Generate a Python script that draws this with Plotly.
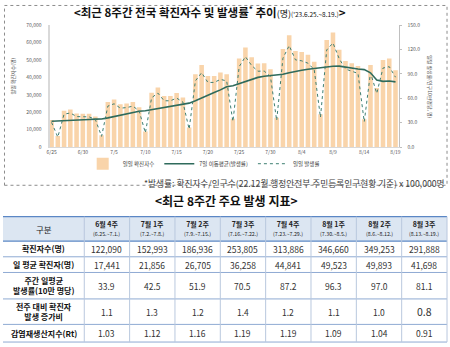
import plotly.graph_objects as go
import pandas as pd

# ---------------- data ----------------
dates = pd.date_range("2023-06-25", "2023-08-19", freq="D")
tick_labels = ["6/25", "6/30", "7/5", "7/10", "7/15", "7/20", "7/25", "7/30",
               "8/4", "8/9", "8/14", "8/19"]

daily_cases = [15600, 6300, 20800, 21600, 19300, 19100, 19100,
               17500, 6800, 25900, 27400, 24600, 25000, 25900,
               22900, 9000, 31200, 34200, 29300, 29300, 31000,
               28500, 11300, 41900, 47100, 40900, 40900, 42800,
               41900, 16200, 50900, 57200, 51600, 48000, 48100,
               44700, 16800, 56300, 64200, 55200, 54600, 53100,
               49000, 18800, 61500, 65900, 55900, 49400, 48100,
               46600, 16000, 47100, 34000, 50000, 50900, 44200]

daily_rate = [30.4, 12.3, 40.5, 42.0, 37.5, 37.2, 37.2,
              34.0, 13.2, 50.4, 53.3, 47.9, 48.6, 50.4,
              44.6, 17.5, 60.7, 66.5, 57.0, 57.0, 60.3,
              55.4, 22.0, 81.5, 91.6, 79.6, 79.6, 83.3,
              81.5, 31.5, 99.0, 111.3, 100.4, 93.4, 93.6,
              87.0, 32.7, 109.5, 124.9, 107.4, 106.2, 103.3,
              95.3, 36.6, 119.6, 128.2, 108.8, 96.1, 93.6,
              90.7, 31.1, 91.6, 66.1, 97.3, 99.0, 86.0]

ma7_rate = [31.8, 32.0, 32.3, 32.6, 33.0, 33.4, 33.9,
            34.4, 34.5, 35.9, 37.5, 39.0, 40.7, 42.5,
            44.1, 44.7, 46.1, 48.0, 49.3, 50.5, 51.9,
            53.5, 54.1, 57.1, 60.7, 63.9, 67.1, 70.4,
            74.2, 75.5, 78.0, 80.8, 83.8, 85.8, 87.2,
            88.0, 88.2, 89.7, 91.6, 92.6, 94.5, 95.9,
            97.0, 97.6, 99.0, 99.5, 99.7, 98.3, 96.9,
            96.2, 95.4, 91.4, 82.6, 80.9, 81.3, 80.3]

weeks = ["6월 4주", "7월 1주", "7월 2주", "7월 3주", "7월 4주", "8월 1주", "8월 2주", "8월 3주"]
periods = ["(6.25.~7.1.)", "(7.2.~7.8.)", "(7.9.~7.15.)", "(7.16.~7.22.)",
           "(7.23.~7.29.)", "(7.30.~8.5.)", "(8.6.~8.12.)", "(8.13.~8.19.)"]
row_labels = ["확진자수(명)", "일 평균 확진자(명)", "주간 일평균<br>발생률(10만 명당)",
              "전주 대비 확진자<br>발생 증가비", "감염재생산지수(Rt)"]
weekly_cases = [122090, 152993, 186936, 253805, 313886, 346660, 349253, 291888]
daily_avg = [17441, 21856, 26705, 36258, 44841, 49523, 49893, 41698]
weekly_rate = [33.9, 42.5, 51.9, 70.5, 87.2, 96.3, 97.0, 81.1]
increase_ratio = [1.1, 1.3, 1.2, 1.4, 1.2, 1.1, 1.0, 0.8]
rt_values = [1.03, 1.12, 1.16, 1.19, 1.19, 1.09, 1.04, 0.91]

# ---------------- helpers / styles ----------------
W, H = 450, 347
FONT = "Noto Sans CJK KR"


def px(x):
    return x / W


def py(y):
    return 1 - y / H


BAR_COLOR = "#F9D4AA"
MA_COLOR = "#2F6B5C"
DOT_COLOR = "#3E7F72"
TICK_COLOR = "#595959"

# table geometry (layout only)
TABLE_TOP = 217
COL_W = [82] + [45.75] * 8
ROW_H = [25, 16, 16, 27, 26, 18]
HLINE = "#8FAAD3"
VLINE = "#B9C8DE"
HEAD_FILL = "#DCE6F2"

fig = go.Figure()

fig.add_trace(go.Bar(
    x=dates, y=daily_cases, name="일일 확진자수",
    marker=dict(color=BAR_COLOR, line=dict(width=0)),
    yaxis="y", xaxis="x",
))
fig.add_trace(go.Scatter(
    x=dates, y=ma7_rate, name="7일 이동평균(발생률)", mode="lines",
    line=dict(color=MA_COLOR, width=1.6),
    yaxis="y2", xaxis="x",
))
fig.add_trace(go.Scatter(
    x=dates, y=daily_rate, name="일일 발생률", mode="lines",
    line=dict(color=DOT_COLOR, width=1, dash="dot"),
    yaxis="y2", xaxis="x",
))

# ---------------- layout ----------------
fig.update_layout(
    width=W, height=H,
    margin=dict(l=0, r=0, t=0, b=0),
    paper_bgcolor="white", plot_bgcolor="white",
    font=dict(family=FONT, color="#333333"),
    bargap=0.27,
    showlegend=True,
    legend=dict(
        orientation="h", x=0.45, xanchor="center", y=py(163), yanchor="middle",
        font=dict(family=FONT, size=5.5, color="#333333"),
        itemwidth=30, bgcolor="rgba(0,0,0,0)", tracegroupgap=0,
    ),
    xaxis=dict(
        domain=[px(47), px(400)],
        type="date",
        range=["2023-06-24 16:24", "2023-08-19 15:07"],
        tickvals=dates[::5], ticktext=tick_labels,
        tickfont=dict(family=FONT, size=5, color=TICK_COLOR),
        showline=True, linecolor="#D9D9D9", linewidth=1,
        showgrid=False, zeroline=False, ticks="",
        anchor="y",
    ),
    yaxis=dict(
        domain=[py(146), py(21.7)],
        range=[0, 70000],
        tickvals=[0, 10000, 20000, 30000, 40000, 50000, 60000, 70000],
        tickformat=",",
        tickfont=dict(family=FONT, size=5, color=TICK_COLOR),
        ticklabelstandoff=5,
        showline=True, linecolor="#D9D9D9", linewidth=2,
        showgrid=False, zeroline=False, ticks="",
        anchor="x",
    ),
    yaxis2=dict(
        overlaying="y", side="right", anchor="x",
        range=[0, 150],
        tickvals=[0, 30, 60, 90, 120, 150],
        tickformat=".1f",
        tickfont=dict(family=FONT, size=5, color=TICK_COLOR),
        showline=True, linecolor="#BFBFBF", linewidth=1,
        ticks="outside", ticklen=2, tickcolor="#BFBFBF",
        ticklabelstandoff=4,
        showgrid=False, zeroline=False,
    ),
)

annotations = [
    dict(x=px(209), y=py(8),
         text="<b>&lt;최근 8주간 전국 확진자수 및 발생률<sup>*</sup> 추이</b>"
              "<span style='font-size:9px'>(명)</span>"
              "<span style='font-size:6.5px'>('23.6.25.~8.19.)</span><b>&gt;</b>",
         font=dict(family=FONT, size=11.5, color="#111111")),
    dict(x=px(10), y=py(73), text="일일 확진자수(명)", textangle=-90,
         font=dict(family=FONT, size=5, color=TICK_COLOR)),
    dict(x=px(431), y=py(84), text="일일 발생률(인구10만명당, 명)", textangle=90,
         font=dict(family=FONT, size=5, color=TICK_COLOR)),
    dict(x=px(448), y=py(183), xanchor="right",
         text="*발생률: 확진자수/인구수(22.12월 행정안전부 주민등록인구현황 기준) x 100,000명",
         font=dict(family=FONT, size=8.7, color="#404040")),
    dict(x=px(225), y=py(201), text="<b>&lt;최근 8주간 주요 발생 지표&gt;</b>",
         font=dict(family=FONT, size=12, color="#111111")),
]

shapes = [
    dict(type="rect", xref="paper", yref="paper",
         x0=px(1.5), x1=px(448), y0=py(185), y1=py(1.5),
         line=dict(color="#8C8C8C", width=1, dash="dot"), layer="below"),
]

# ---------------- table (drawn with shapes + text) ----------------
x_edges = [0]
for w in COL_W:
    x_edges.append(x_edges[-1] + w)
y_edges = [TABLE_TOP]
for h in ROW_H:
    y_edges.append(y_edges[-1] + h)

shapes.append(dict(type="rect", xref="paper", yref="paper",
                   x0=px(x_edges[0]), x1=px(x_edges[-1]),
                   y0=py(y_edges[1]), y1=py(y_edges[0]),
                   fillcolor=HEAD_FILL, line=dict(width=0), layer="below"))
for j, ye in enumerate(y_edges):
    shapes.append(dict(type="line", xref="paper", yref="paper",
                       x0=px(x_edges[0]), x1=px(x_edges[-1]), y0=py(ye), y1=py(ye),
                       line=dict(color="#5B87C5" if j in (0, 1) else HLINE,
                                 width=1.3 if j in (0, 1) else 1)))
for xe in x_edges[1:]:
    shapes.append(dict(type="line", xref="paper", yref="paper",
                       x0=px(xe), x1=px(xe), y0=py(y_edges[0]), y1=py(y_edges[-1]),
                       line=dict(color=VLINE, width=1)))


def cell_center(ci, ri):
    return px((x_edges[ci] + x_edges[ci + 1]) / 2), py((y_edges[ri] + y_edges[ri + 1]) / 2)


# header
cx, cy = cell_center(0, 0)
annotations.append(dict(x=cx, y=cy, text="구분",
                        font=dict(family=FONT, size=8.5, color="#222222")))
for i, (wk, pr) in enumerate(zip(weeks, periods)):
    cx, cy = cell_center(i + 1, 0)
    annotations.append(dict(x=cx, y=cy,
                            text=f"<b>{wk}</b><br><span style='font-size:5.3px'>{pr}</span>",
                            font=dict(family=FONT, size=7, color="#222222")))

# first column
for r, lab in enumerate(row_labels):
    cx, cy = cell_center(0, r + 1)
    annotations.append(dict(x=cx, y=cy, text=f"<b>{lab}</b>",
                            font=dict(family=FONT, size=8, color="#111111")))

# values
for i in range(len(weeks)):
    vals = [f"{weekly_cases[i]:,}", f"{daily_avg[i]:,}", f"{weekly_rate[i]:.1f}",
            f"{increase_ratio[i]:.1f}", f"{rt_values[i]:.2f}"]
    for r, v in enumerate(vals):
        cx, cy = cell_center(i + 1, r + 1)
        size = 10.5 if (i == len(weeks) - 1 and r == 3) else 8.5
        annotations.append(dict(x=cx, y=cy, text=v,
                                font=dict(family=FONT, size=size, color="#333333")))

for a in annotations:
    a.setdefault("xref", "paper")
    a.setdefault("yref", "paper")
    a.setdefault("showarrow", False)
    a.setdefault("xanchor", "center")
    a.setdefault("yanchor", "middle")
fig.update_layout(annotations=annotations, shapes=shapes)

fig.write_html("out.html")
